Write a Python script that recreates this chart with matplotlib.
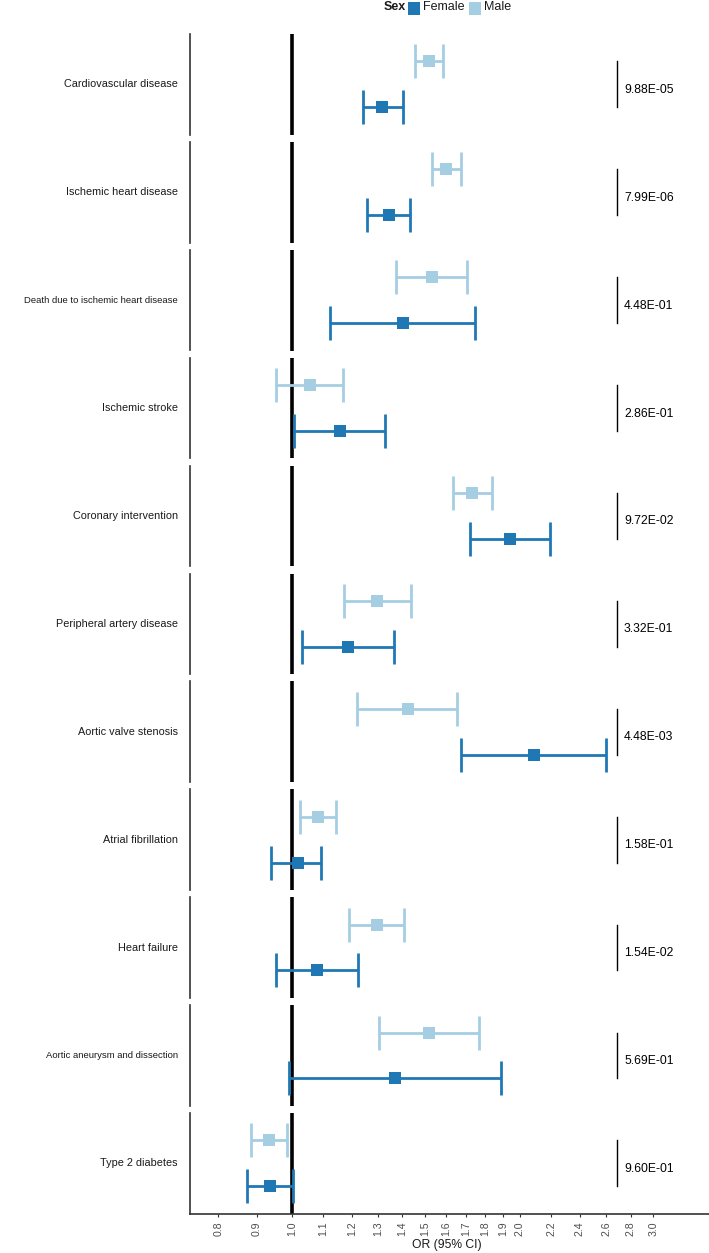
import matplotlib
matplotlib.use("Agg")
import matplotlib.pyplot as plt
from matplotlib.patches import Rectangle
import numpy as np

plt.rcParams['font.family'] = ['Liberation Sans', 'DejaVu Sans']

# ---------------- data ----------------
outcomes = [
    "Cardiovascular disease",
    "Ischemic heart disease",
    "Death due to ischemic heart disease",
    "Ischemic stroke",
    "Coronary intervention",
    "Peripheral artery disease",
    "Aortic valve stenosis",
    "Atrial fibrillation",
    "Heart failure",
    "Aortic aneurysm and dissection",
    "Type 2 diabetes",
]
female_or = [1.317, 1.344, 1.401, 1.158, 1.943, 1.187, 2.086, 1.018, 1.080, 1.369, 0.936]
female_lo = [1.241, 1.257, 1.123, 1.008, 1.721, 1.033, 1.673, 0.939, 0.954, 0.991, 0.872]
female_hi = [1.401, 1.433, 1.745, 1.329, 2.194, 1.366, 2.601, 1.093, 1.223, 1.889, 1.005]
male_or = [1.519, 1.600, 1.530, 1.056, 1.731, 1.297, 1.423, 1.083, 1.295, 1.518, 0.934]
male_lo = [1.454, 1.530, 1.372, 0.953, 1.631, 1.171, 1.221, 1.025, 1.191, 1.303, 0.884]
male_hi = [1.582, 1.673, 1.703, 1.169, 1.836, 1.438, 1.654, 1.144, 1.407, 1.767, 0.985]
p_values = ["9.88E-05", "7.99E-06", "4.48E-01", "2.86E-01", "9.72E-02", "3.32E-01",
            "4.48E-03", "1.58E-01", "1.54E-02", "5.69E-01", "9.60E-01"]
sexes = ["Female", "Male"]
xticks = [0.8, 0.9, 1.0, 1.1, 1.2, 1.3, 1.4, 1.5, 1.6, 1.7, 1.8, 1.9, 2.0, 2.2, 2.4, 2.6, 2.8, 3.0]
xtick_labels = ["0.8", "0.9", "1.0", "1.1", "1.2", "1.3", "1.4", "1.5", "1.6", "1.7", "1.8",
                "1.9", "2.0", "2.2", "2.4", "2.6", "2.8", "3.0"]

# ---------------- style ----------------
C_F = "#1F78B4"
C_M = "#A6CEE3"
W, H = 709, 1253
fig = plt.figure(figsize=(W / 100, H / 100), dpi=100)
renderer = fig.canvas.get_renderer()

ax_left_px, ax_right_px = 190, 709
panel_top0, panel_h, period = 34, 100.7, 107.9
xlim = (0.734, 3.554)
p_line_x = 2.687
p_text_x = 2.745

for i, name in enumerate(outcomes):
    top = panel_top0 + i * period
    ax = fig.add_axes([ax_left_px / W, 1 - (top + panel_h) / H,
                       (ax_right_px - ax_left_px) / W, panel_h / H])
    ax.set_xscale('log')
    ax.set_xlim(*xlim)
    ax.set_ylim(0.4, 2.6)
    ax.minorticks_off()
    for s in ['top', 'right']:
        ax.spines[s].set_visible(False)
    ax.spines['left'].set_linewidth(1.2)
    ax.spines['left'].set_color('#333333')
    ax.set_yticks([])

    ax.axvline(1.0, color='black', lw=2.6, zorder=1)

    for y, orv, lo, hi, col in [(1, female_or[i], female_lo[i], female_hi[i], C_F),
                                (2, male_or[i], male_lo[i], male_hi[i], C_M)]:
        ax.errorbar([orv], [y], xerr=[[orv - lo], [hi - orv]], fmt='none', ecolor=col,
                    elinewidth=2.0, capsize=12, capthick=2.0, zorder=3)
        ax.plot([orv], [y], 's', color=col, ms=8.9, mew=0, zorder=4)

    ax.plot([p_line_x, p_line_x], [1, 2], color='black', lw=1.0)
    ax.text(p_text_x, 1.38, p_values[i], ha='left', va='center', fontsize=8.7, color='black')

    t = fig.text(178 / W, 1 - (top + panel_h / 2) / H, name, ha='right', va='center',
                 fontsize=7.8, color='#1A1A1A')
    if t.get_window_extent(renderer).width > 140:
        t.set_fontsize(6.8)

    if i < len(outcomes) - 1:
        ax.spines['bottom'].set_visible(False)
        ax.set_xticks([])
    else:
        ax.spines['bottom'].set_linewidth(1.2)
        ax.spines['bottom'].set_color('#333333')
        ax.set_xticks(xticks)
        ax.set_xticklabels(xtick_labels, rotation=90)
        ax.tick_params(axis='x', length=2.4, width=0.8, color='#333333',
                       labelcolor='#4D4D4D', labelsize=7.6, pad=3)

fig.text(447 / W, 1 - 1245 / H, "OR (95% CI)", ha='center', va='center', fontsize=8.7,
         color='#1A1A1A')

# ---------------- legend ----------------
ly = 1 - 7.5 / H
fig.text(383.3 / W, ly, "Sex", ha='left', va='center', fontsize=9, fontweight='bold',
         color='#1A1A1A')
for sx, tx, lab, col in [(407.7, 423.3, sexes[0], C_F), (469, 484.3, sexes[1], C_M)]:
    fig.patches.append(Rectangle((sx / W, 1 - 14.5 / H), 12.3 / W, 12.3 / H,
                                 transform=fig.transFigure, facecolor=col, edgecolor='none'))
    fig.text(tx / W, ly, lab, ha='left', va='center', fontsize=9, color='#1A1A1A')

fig.savefig("out.png", dpi=100)
